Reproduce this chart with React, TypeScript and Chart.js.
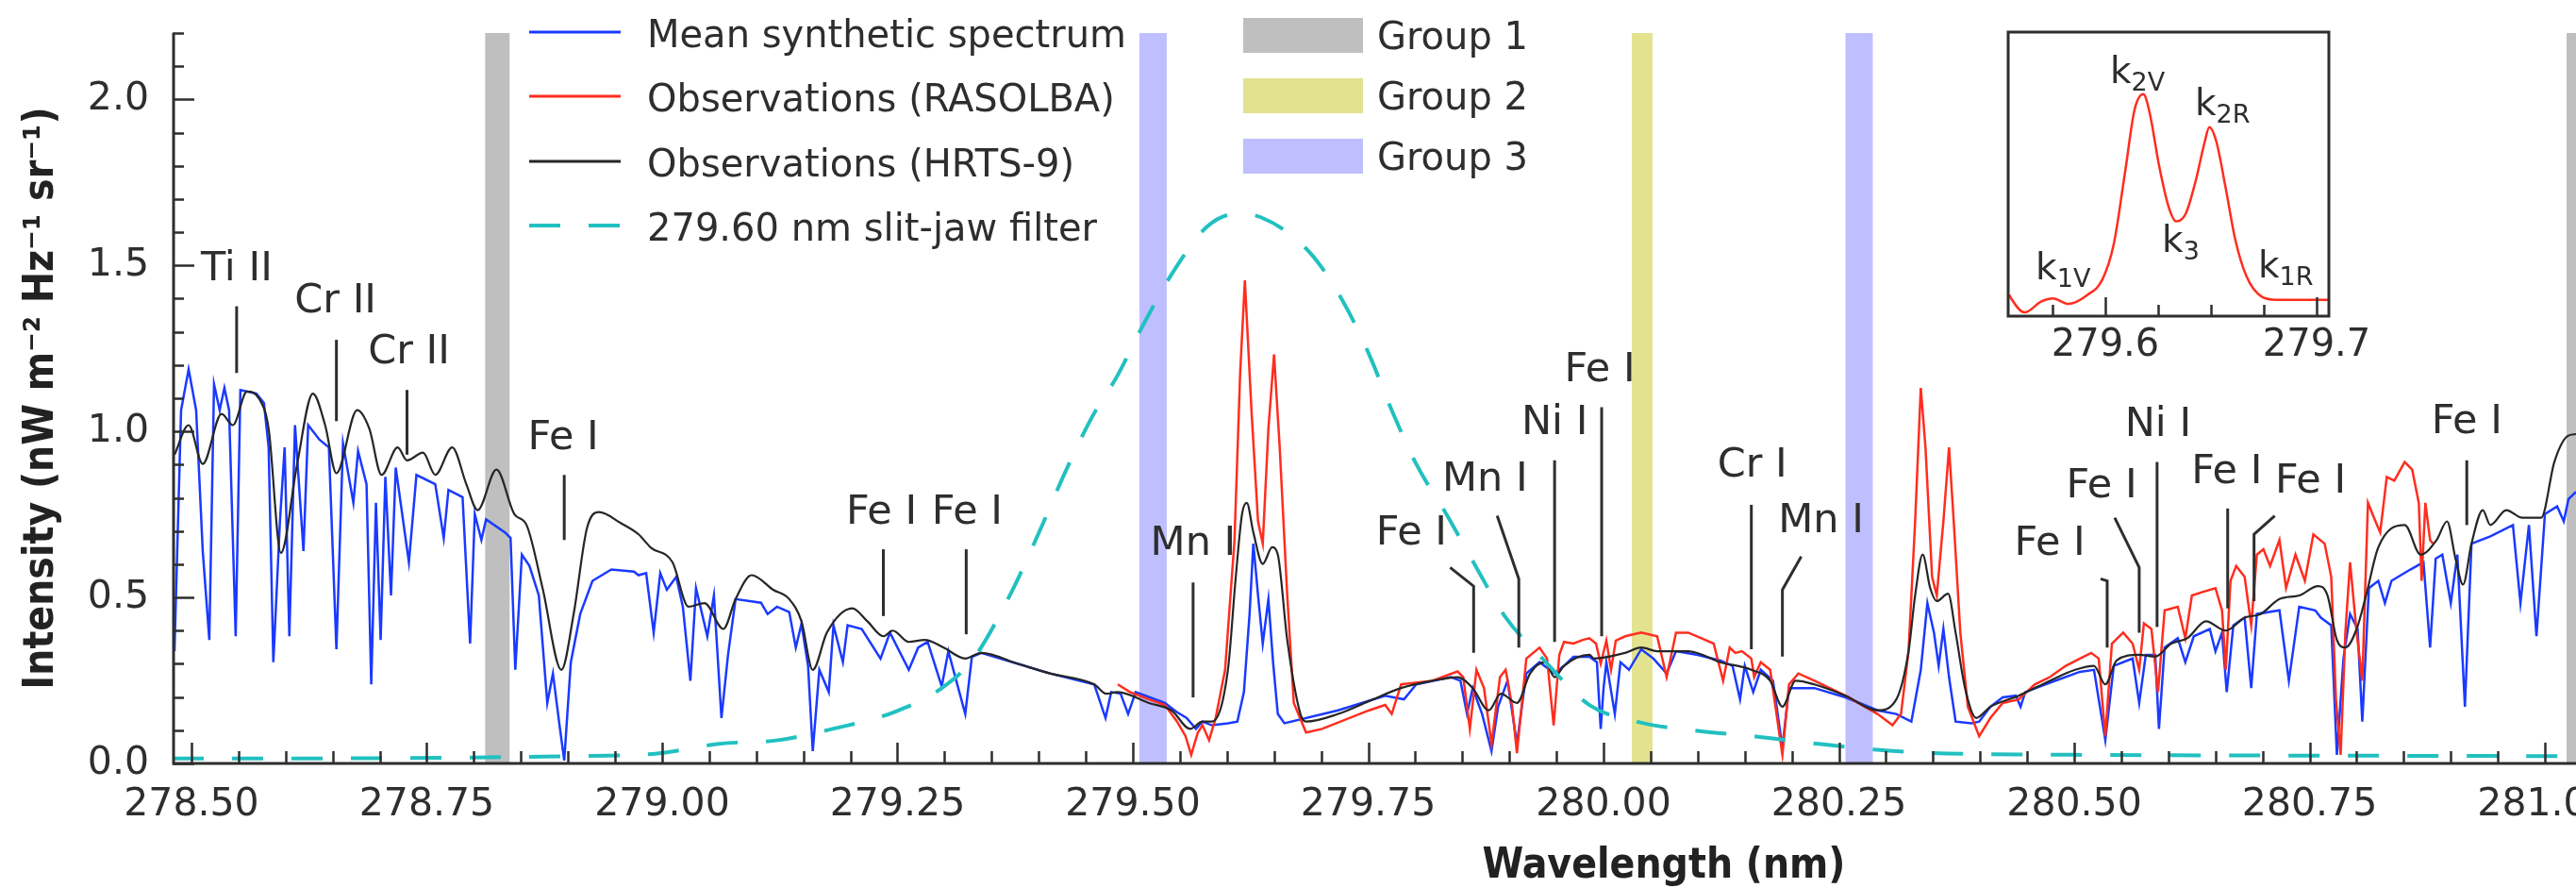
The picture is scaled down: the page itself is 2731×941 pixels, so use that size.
import React, { useEffect, useRef } from "react";
import { Chart, registerables } from "chart.js";

Chart.register(...registerables);

const W = 2731;
const H = 941;
const FONT = '"DejaVu Sans", "Noto Sans", sans-serif';
const FONT_COND = '"DejaVu Sans Condensed", "DejaVu Sans", sans-serif';
const INK = "#2e2e2e";
const BLUE = "#1a3aff";
const RED = "#ff2d1f";
const BLACK = "#262626";
const CYAN = "#22c0c0";
const GREY_BAND = "#bfbfbf";
const YELLOW_BAND = "#e2e28f";
const LAVENDER_BAND = "#bfbfff";

// ---------------- data ----------------
const syntheticSpectrum: [number, number][] = [
  [278.482, 0.338], [278.489, 1.064], [278.497, 1.187], [278.505, 1.064], [278.512, 0.64], [278.519, 0.372],
  [278.524, 1.142], [278.53, 1.064], [278.535, 1.131], [278.54, 1.064], [278.547, 0.383], [278.552, 1.125],
  [278.569, 1.114], [278.577, 1.086], [278.582, 0.952], [278.587, 0.305], [278.594, 0.729], [278.599, 0.952],
  [278.604, 0.383], [278.61, 1.019], [278.619, 0.64], [278.624, 1.019], [278.636, 0.975], [278.646, 0.952],
  [278.654, 0.344], [278.661, 0.964], [278.672, 0.785], [278.677, 0.941], [278.686, 0.841], [278.691, 0.238],
  [278.696, 0.785], [278.701, 0.372], [278.706, 0.863], [278.712, 0.506], [278.717, 0.891], [278.731, 0.606],
  [278.739, 0.869], [278.759, 0.841], [278.768, 0.679], [278.773, 0.824], [278.788, 0.802], [278.796, 0.361],
  [278.801, 0.751], [278.808, 0.673], [278.813, 0.735], [278.833, 0.696], [278.839, 0.679], [278.844, 0.282],
  [278.851, 0.629], [278.859, 0.595], [278.869, 0.506], [278.878, 0.182], [278.884, 0.271], [278.891, 0.115],
  [278.896, 0.009], [278.903, 0.305], [278.913, 0.45], [278.926, 0.55], [278.946, 0.584], [278.97, 0.578],
  [278.975, 0.567], [278.983, 0.573], [278.991, 0.394], [278.998, 0.573], [279.005, 0.523], [279.015, 0.562],
  [279.022, 0.472], [279.03, 0.249], [279.036, 0.528], [279.048, 0.383], [279.055, 0.506], [279.063, 0.137],
  [279.07, 0.327], [279.078, 0.495], [279.105, 0.484], [279.112, 0.45], [279.122, 0.472], [279.135, 0.456],
  [279.142, 0.349], [279.148, 0.421], [279.155, 0.294], [279.16, 0.037], [279.167, 0.282], [279.177, 0.215],
  [279.182, 0.416], [279.192, 0.305], [279.197, 0.416], [279.212, 0.405], [279.232, 0.316], [279.242, 0.394],
  [279.262, 0.282], [279.272, 0.349], [279.282, 0.366], [279.297, 0.232], [279.304, 0.338], [279.322, 0.149],
  [279.329, 0.321], [279.339, 0.333], [279.379, 0.299], [279.412, 0.271], [279.459, 0.238], [279.471, 0.137],
  [279.477, 0.215], [279.487, 0.21], [279.495, 0.149], [279.503, 0.215], [279.534, 0.182], [279.547, 0.154],
  [279.557, 0.137], [279.567, 0.104], [279.574, 0.126], [279.584, 0.115], [279.601, 0.121], [279.611, 0.126],
  [279.618, 0.215], [279.624, 0.45], [279.628, 0.662], [279.633, 0.506], [279.638, 0.361], [279.644, 0.494],
  [279.649, 0.304], [279.654, 0.149], [279.661, 0.121], [279.718, 0.16], [279.768, 0.204], [279.788, 0.193],
  [279.801, 0.238], [279.838, 0.26], [279.848, 0.249], [279.855, 0.149], [279.861, 0.227], [279.871, 0.149],
  [279.881, 0.037], [279.888, 0.171], [279.898, 0.249], [279.908, 0.059], [279.918, 0.271], [279.932, 0.305],
  [279.948, 0.271], [279.958, 0.294], [279.968, 0.321], [279.985, 0.321], [279.993, 0.305], [279.997, 0.104],
  [280.0, 0.226], [280.003, 0.305], [280.012, 0.149], [280.018, 0.305], [280.027, 0.282], [280.04, 0.344],
  [280.053, 0.316], [280.067, 0.271], [280.077, 0.338], [280.1, 0.327], [280.124, 0.31], [280.137, 0.294],
  [280.145, 0.193], [280.15, 0.294], [280.159, 0.215], [280.167, 0.282], [280.18, 0.249], [280.19, 0.048],
  [280.197, 0.227], [280.224, 0.227], [280.257, 0.199], [280.291, 0.16], [280.311, 0.149], [280.327, 0.126],
  [280.337, 0.282], [280.344, 0.483], [280.351, 0.394], [280.356, 0.294], [280.361, 0.405], [280.367, 0.26],
  [280.374, 0.126], [280.391, 0.121], [280.399, 0.126], [280.411, 0.171], [280.424, 0.199], [280.438, 0.204],
  [280.443, 0.171], [280.448, 0.215], [280.474, 0.243], [280.506, 0.276], [280.521, 0.282], [280.533, 0.07],
  [280.542, 0.294], [280.562, 0.316], [280.569, 0.182], [280.576, 0.327], [280.586, 0.327], [280.59, 0.104],
  [280.596, 0.349], [280.61, 0.377], [280.618, 0.305], [280.627, 0.383], [280.644, 0.405], [280.65, 0.338],
  [280.657, 0.394], [280.662, 0.215], [280.669, 0.416], [280.681, 0.439], [280.688, 0.227], [280.694, 0.45],
  [280.718, 0.461], [280.728, 0.249], [280.739, 0.472], [280.756, 0.461], [280.762, 0.439], [280.773, 0.416],
  [280.779, 0.026], [280.786, 0.316], [280.793, 0.45], [280.801, 0.405], [280.806, 0.126], [280.813, 0.528],
  [280.823, 0.55], [280.83, 0.483], [280.837, 0.55], [280.857, 0.584], [280.871, 0.606], [280.878, 0.349],
  [280.884, 0.617], [280.891, 0.629], [280.9, 0.483], [280.907, 0.629], [280.915, 0.171], [280.922, 0.662],
  [280.942, 0.684], [280.966, 0.718], [280.974, 0.483], [280.983, 0.718], [280.991, 0.383], [281.0, 0.751],
  [281.013, 0.774], [281.02, 0.729], [281.025, 0.796], [281.033, 0.818],
];

const rasolbaSpectrum: [number, number][] = [
  [279.484, 0.238], [279.497, 0.215], [279.517, 0.193], [279.534, 0.176], [279.547, 0.126], [279.556, 0.082],
  [279.562, 0.026], [279.569, 0.093], [279.574, 0.115], [279.581, 0.07], [279.588, 0.137], [279.598, 0.282],
  [279.608, 0.673], [279.614, 1.176], [279.619, 1.455], [279.626, 1.064], [279.633, 0.729], [279.638, 0.662],
  [279.644, 1.008], [279.65, 1.232], [279.656, 0.952], [279.664, 0.506], [279.671, 0.182], [279.684, 0.093],
  [279.701, 0.104], [279.751, 0.16], [279.768, 0.176], [279.775, 0.149], [279.785, 0.238], [279.818, 0.249],
  [279.845, 0.277], [279.851, 0.26], [279.858, 0.104], [279.865, 0.282], [279.873, 0.227], [279.881, 0.059],
  [279.89, 0.26], [279.896, 0.282], [279.903, 0.171], [279.908, 0.031], [279.918, 0.316], [279.932, 0.349],
  [279.94, 0.316], [279.947, 0.115], [279.953, 0.327], [279.958, 0.366], [279.968, 0.361], [279.978, 0.372],
  [279.985, 0.377], [279.992, 0.361], [279.997, 0.3], [280.003, 0.37], [280.008, 0.282], [280.013, 0.37],
  [280.023, 0.383], [280.04, 0.394], [280.057, 0.383], [280.067, 0.26], [280.077, 0.394], [280.09, 0.394],
  [280.104, 0.377], [280.117, 0.361], [280.127, 0.249], [280.134, 0.349], [280.14, 0.333], [280.147, 0.338],
  [280.157, 0.316], [280.16, 0.26], [280.167, 0.305], [280.177, 0.282], [280.19, 0.026], [280.197, 0.238],
  [280.207, 0.271], [280.224, 0.249], [280.257, 0.204], [280.291, 0.149], [280.307, 0.115], [280.316, 0.149],
  [280.324, 0.338], [280.331, 0.729], [280.337, 1.131], [280.342, 0.952], [280.349, 0.562], [280.354, 0.506],
  [280.361, 0.729], [280.367, 0.952], [280.372, 0.729], [280.379, 0.394], [280.387, 0.171], [280.399, 0.082],
  [280.411, 0.137], [280.424, 0.182], [280.441, 0.193], [280.458, 0.238], [280.474, 0.26], [280.491, 0.294],
  [280.506, 0.316], [280.518, 0.333], [280.526, 0.316], [280.533, 0.082], [280.54, 0.361], [280.552, 0.394],
  [280.562, 0.361], [280.569, 0.282], [280.574, 0.422], [280.582, 0.405], [280.589, 0.215], [280.596, 0.461],
  [280.61, 0.472], [280.618, 0.377], [280.625, 0.506], [280.637, 0.517], [280.65, 0.528], [280.657, 0.461],
  [280.661, 0.282], [280.666, 0.55], [280.672, 0.595], [280.681, 0.562], [280.688, 0.416], [280.694, 0.629],
  [280.701, 0.645], [280.708, 0.595], [280.718, 0.673], [280.725, 0.528], [280.735, 0.629], [280.745, 0.55],
  [280.754, 0.69], [280.766, 0.662], [280.773, 0.562], [280.778, 0.193], [280.783, 0.026], [280.788, 0.394],
  [280.793, 0.606], [280.8, 0.394], [280.806, 0.249], [280.812, 0.785], [280.82, 0.729], [280.825, 0.696],
  [280.832, 0.863], [280.84, 0.852], [280.851, 0.908], [280.859, 0.885], [280.866, 0.785], [280.869, 0.55],
  [280.873, 0.785], [280.878, 0.673], [280.881, 0.662],
];

const hrtsSpectrum: [number, number][] = [
  [278.482, 0.93], [278.497, 1.019], [278.512, 0.902], [278.532, 1.053], [278.544, 1.019], [278.559, 1.12],
  [278.572, 1.098], [278.582, 1.008], [278.595, 0.634], [278.612, 0.897], [278.629, 1.114], [278.642, 1.019],
  [278.654, 0.874], [278.676, 1.064], [278.689, 1.008], [278.702, 0.869], [278.719, 0.952], [278.729, 0.913],
  [278.746, 0.936], [278.759, 0.869], [278.777, 0.952], [278.792, 0.841], [278.804, 0.763], [278.824, 0.885],
  [278.843, 0.751], [278.856, 0.718], [278.873, 0.528], [278.893, 0.282], [278.906, 0.45], [278.92, 0.707],
  [278.933, 0.757], [278.956, 0.724], [278.975, 0.69], [278.988, 0.65], [279.011, 0.606], [279.028, 0.472],
  [279.045, 0.483], [279.065, 0.405], [279.078, 0.495], [279.095, 0.567], [279.118, 0.523], [279.135, 0.495],
  [279.148, 0.428], [279.16, 0.282], [279.175, 0.394], [279.202, 0.467], [279.218, 0.428], [279.235, 0.383],
  [279.245, 0.4], [279.262, 0.366], [279.279, 0.372], [279.299, 0.349], [279.322, 0.316], [279.339, 0.333],
  [279.379, 0.299], [279.412, 0.271], [279.459, 0.238], [279.472, 0.21], [279.484, 0.215], [279.517, 0.182],
  [279.541, 0.16], [279.561, 0.104], [279.574, 0.126], [279.584, 0.126], [279.601, 0.282], [279.609, 0.55],
  [279.616, 0.751], [279.621, 0.785], [279.628, 0.696], [279.638, 0.601], [279.648, 0.651], [279.654, 0.629],
  [279.664, 0.372], [279.678, 0.149], [279.684, 0.126], [279.718, 0.149], [279.751, 0.188], [279.785, 0.227],
  [279.818, 0.249], [279.845, 0.26], [279.861, 0.227], [279.878, 0.16], [279.891, 0.21], [279.908, 0.182],
  [279.922, 0.271], [279.938, 0.305], [279.948, 0.26], [279.958, 0.294], [279.985, 0.327], [279.99, 0.316],
  [280.023, 0.333], [280.04, 0.349], [280.057, 0.338], [280.09, 0.338], [280.124, 0.305], [280.157, 0.282],
  [280.177, 0.249], [280.19, 0.171], [280.204, 0.249], [280.224, 0.238], [280.257, 0.204], [280.291, 0.16],
  [280.311, 0.193], [280.324, 0.338], [280.331, 0.506], [280.339, 0.629], [280.347, 0.528], [280.354, 0.489],
  [280.366, 0.511], [280.374, 0.394], [280.384, 0.227], [280.396, 0.137], [280.411, 0.171], [280.441, 0.204],
  [280.474, 0.249], [280.501, 0.282], [280.521, 0.294], [280.533, 0.238], [280.545, 0.31], [280.569, 0.327],
  [280.586, 0.322], [280.603, 0.361], [280.62, 0.377], [280.64, 0.428], [280.661, 0.4], [280.681, 0.439],
  [280.698, 0.45], [280.718, 0.495], [280.739, 0.506], [280.759, 0.534], [280.769, 0.506], [280.779, 0.372],
  [280.788, 0.349], [280.8, 0.405], [280.81, 0.506], [280.823, 0.651], [280.851, 0.718], [280.868, 0.629],
  [280.885, 0.673], [280.896, 0.729], [280.905, 0.617], [280.913, 0.539], [280.922, 0.662], [280.934, 0.763],
  [280.942, 0.718], [280.959, 0.763], [280.976, 0.74], [280.996, 0.74], [281.01, 0.908], [281.024, 0.986],
  [281.033, 0.992],
];

const slitJawFilter: [number, number][] = [
  [278.48, 0.015], [278.6, 0.015], [278.7, 0.016], [278.8, 0.018], [278.9, 0.022], [278.995, 0.03],
  [279.06, 0.059], [279.123, 0.07], [279.181, 0.104], [279.246, 0.154], [279.296, 0.225], [279.331, 0.317],
  [279.37, 0.51], [279.401, 0.7], [279.427, 0.87], [279.456, 1.04], [279.483, 1.165], [279.512, 1.326],
  [279.542, 1.477], [279.579, 1.617], [279.61, 1.655], [279.636, 1.645], [279.688, 1.539], [279.723, 1.393],
  [279.751, 1.232], [279.775, 1.064], [279.801, 0.902], [279.833, 0.751], [279.865, 0.59], [279.895, 0.444],
  [279.937, 0.31], [279.985, 0.176], [280.038, 0.124], [280.1, 0.098], [280.162, 0.081], [280.225, 0.06],
  [280.287, 0.042], [280.35, 0.031], [280.41, 0.028], [280.5, 0.026], [280.7, 0.024], [281.033, 0.022],
];

const insetProfile: [number, number][] = [
  [279.5545, 0.05], [279.5554, 0.024], [279.5617, -0.074], [279.5698, 0.003], [279.5752, 0.024],
  [279.5824, -0.015], [279.5914, 0.047], [279.5986, 0.156], [279.6039, 0.397], [279.6093, 0.902],
  [279.6138, 1.34], [279.618, 1.45], [279.621, 1.318], [279.6255, 0.946], [279.63, 0.661], [279.6336, 0.562],
  [279.6381, 0.617], [279.6426, 0.836], [279.6471, 1.121], [279.6492, 1.22], [279.6525, 1.121],
  [279.657, 0.792], [279.6614, 0.441], [279.6668, 0.178], [279.674, 0.036], [279.6812, 0.014], [279.7055, 0.014],
];

const xTickLabels = [278.5, 278.75, 279.0, 279.25, 279.5, 279.75, 280.0, 280.25, 280.5, 280.75, 281.0];
const yTickLabels = [0, 0.5, 1.0, 1.5, 2.0];
const insetTickLabels = [279.6, 279.7];

const group1Bands: [number, number][] = [[278.812, 278.838], [281.023, 281.048]];
const group2Bands: [number, number][] = [[280.03, 280.052]];
const group3Bands: [number, number][] = [[279.507, 279.536], [280.257, 280.286]];

const seriesNames = [
  "Mean synthetic spectrum",
  "Observations (RASOLBA)",
  "Observations (HRTS-9)",
  "279.60 nm slit-jaw filter",
];
const groupNames = ["Group 1", "Group 2", "Group 3"];

// line identifications: label anchor (wavelength, intensity) and leader path
const lineIds: { text: string; at: [number, number]; path: [number, number][] }[] = [
  { text: "Ti II", at: [278.548, 1.5], path: [[278.548, 1.377], [278.548, 1.176]] },
  { text: "Cr II", at: [278.653, 1.404], path: [[278.654, 1.276], [278.654, 1.031]] },
  { text: "Cr II", at: [278.731, 1.25], path: [[278.729, 1.125], [278.729, 0.93]] },
  { text: "Fe I", at: [278.895, 0.99], path: [[278.896, 0.869], [278.896, 0.673]] },
  { text: "Fe I", at: [279.233, 0.766], path: [[279.235, 0.645], [279.235, 0.444]] },
  { text: "Fe I", at: [279.324, 0.766], path: [[279.323, 0.645], [279.323, 0.389]] },
  { text: "Mn I", at: [279.564, 0.672], path: [[279.564, 0.545], [279.564, 0.199]] },
  { text: "Fe I", at: [279.796, 0.703], path: [[279.837, 0.59], [279.862, 0.534], [279.862, 0.333]] },
  { text: "Mn I", at: [279.874, 0.866], path: [[279.887, 0.746], [279.91, 0.556], [279.91, 0.349]] },
  { text: "Ni I", at: [279.948, 1.036], path: [[279.948, 0.913], [279.948, 0.366]] },
  { text: "Fe I", at: [279.996, 1.196], path: [[279.998, 1.073], [279.998, 0.383]] },
  { text: "Cr I", at: [280.158, 0.908], path: [[280.157, 0.779], [280.157, 0.344]] },
  { text: "Mn I", at: [280.231, 0.74], path: [[280.21, 0.623], [280.19, 0.523], [280.19, 0.322]] },
  { text: "Fe I", at: [280.474, 0.672], path: [[280.528, 0.556], [280.535, 0.55], [280.535, 0.349]] },
  { text: "Fe I", at: [280.529, 0.846], path: [[280.543, 0.74], [280.569, 0.59], [280.569, 0.394]] },
  { text: "Ni I", at: [280.589, 1.03], path: [[280.588, 0.908], [280.588, 0.411]] },
  { text: "Fe I", at: [280.662, 0.889], path: [[280.663, 0.768], [280.663, 0.467]] },
  { text: "Fe I", at: [280.751, 0.861], path: [[280.713, 0.746], [280.691, 0.69], [280.691, 0.489]] },
  { text: "Fe I", at: [280.917, 1.04], path: [[280.917, 0.913], [280.917, 0.718]] },
];

// inset feature names: anchor = (left of "k", baseline)
const insetIds: { base: string; sub: string; at: [number, number] }[] = [
  { base: "k", sub: "2V", at: [279.6022, 1.529] },
  { base: "k", sub: "2R", at: [279.6424, 1.305] },
  { base: "k", sub: "3", at: [279.6268, 0.345] },
  { base: "k", sub: "1V", at: [279.567, 0.154] },
  { base: "k", sub: "1R", at: [279.6723, 0.167] },
];

const toXY = (arr: [number, number][]) => arr.map(([x, y]) => ({ x, y }));

// ---------------- plugins ----------------
const bandsPlugin = {
  id: "bands",
  beforeDatasetsDraw(chart: any) {
    const { ctx, chartArea: a, scales } = chart;
    const x = scales.x;
    ctx.save();
    const draw = (bands: [number, number][], color: string) => {
      ctx.fillStyle = color;
      for (const [b0, b1] of bands) {
        const p0 = x.getPixelForValue(b0);
        const p1 = x.getPixelForValue(b1);
        ctx.fillRect(p0, a.top, p1 - p0, a.bottom - a.top);
      }
    };
    draw(group1Bands, GREY_BAND);
    draw(group2Bands, YELLOW_BAND);
    draw(group3Bands, LAVENDER_BAND);
    ctx.restore();
  },
};

const axesPlugin = {
  id: "axesTicks",
  afterDatasetsDraw(chart: any) {
    const { ctx, chartArea: a, scales } = chart;
    const x = scales.x;
    const y = scales.y;
    ctx.save();
    ctx.strokeStyle = INK;
    ctx.lineWidth = 2.5;
    ctx.beginPath();
    const i0 = Math.ceil(x.min / 0.05 - 1e-6);
    for (let i = i0; i * 0.05 <= x.max + 1e-9; i++) {
      const v = i * 0.05;
      const major = Math.abs(v / 0.25 - Math.round(v / 0.25)) < 1e-6;
      const px = Math.round(x.getPixelForValue(v)) + 0.5;
      ctx.moveTo(px, a.bottom);
      ctx.lineTo(px, a.bottom - (major ? 22 : 13));
    }
    for (let i = 0; i * 0.1 <= y.max + 1e-9; i++) {
      const py = Math.round(y.getPixelForValue(i * 0.1)) + 0.5;
      ctx.moveTo(a.left, py);
      ctx.lineTo(a.left + (i % 5 === 0 ? 23 : 12), py);
    }
    ctx.stroke();
    ctx.lineWidth = 3;
    ctx.beginPath();
    ctx.moveTo(a.left + 1, a.top);
    ctx.lineTo(a.left + 1, a.bottom);
    ctx.lineTo(a.right, a.bottom);
    ctx.stroke();
    ctx.restore();
  },
};

const idsPlugin = {
  id: "lineIds",
  afterDatasetsDraw(chart: any) {
    const { ctx, scales } = chart;
    const x = scales.x;
    const y = scales.y;
    const size = 43;
    ctx.save();
    ctx.strokeStyle = INK;
    ctx.fillStyle = INK;
    ctx.lineWidth = 3;
    ctx.font = `${size}px ${FONT}`;
    ctx.textAlign = "center";
    ctx.textBaseline = "alphabetic";
    for (const id of lineIds) {
      ctx.beginPath();
      id.path.forEach(([lx, ly], i) => {
        const px = x.getPixelForValue(lx);
        const py = y.getPixelForValue(ly);
        if (i === 0) ctx.moveTo(px, py);
        else ctx.lineTo(px, py);
      });
      ctx.stroke();
      ctx.fillText(id.text, x.getPixelForValue(id.at[0]), y.getPixelForValue(id.at[1]) + size * 0.365);
    }
    ctx.restore();
  },
};

const legendPlugin = {
  id: "customLegend",
  afterDraw(chart: any) {
    const { ctx } = chart;
    const ds = chart.data.datasets;
    ctx.save();
    ctx.font = `40px ${FONT}`;
    ctx.fillStyle = INK;
    ctx.textAlign = "left";
    ctx.textBaseline = "alphabetic";
    const rows = [34, 102, 171, 239];
    seriesNames.forEach((name, i) => {
      const d = ds[i];
      ctx.save();
      ctx.strokeStyle = d.borderColor;
      ctx.lineWidth = i === 3 ? 4 : 3;
      ctx.setLineDash(i === 3 ? [33, 30] : []);
      ctx.beginPath();
      ctx.moveTo(561, rows[i]);
      ctx.lineTo(658, rows[i]);
      ctx.stroke();
      ctx.restore();
      ctx.fillText(name, 686, rows[i] + 16);
    });
    const grows = [37, 101, 165];
    const gcolors = [GREY_BAND, YELLOW_BAND, LAVENDER_BAND];
    groupNames.forEach((name, i) => {
      ctx.fillStyle = gcolors[i];
      ctx.fillRect(1318, grows[i] - 18, 127, 37);
      ctx.fillStyle = INK;
      ctx.fillText(name, 1460, grows[i] + 15);
    });
    // x axis title (centred on the full, uncropped axis)
    ctx.font = `bold 44px ${FONT_COND}`;
    ctx.textAlign = "center";
    ctx.fillStyle = "#222";
    ctx.fillText("Wavelength (nm)", 1764, 930);
    ctx.restore();
  },
};

const insetFramePlugin = {
  id: "insetFrame",
  beforeDatasetsDraw(chart: any) {
    const { ctx, chartArea: a } = chart;
    ctx.save();
    ctx.fillStyle = "#ffffff";
    ctx.fillRect(a.left, a.top, a.right - a.left, a.bottom - a.top);
    ctx.restore();
  },
  afterDatasetsDraw(chart: any) {
    const { ctx, chartArea: a, scales } = chart;
    const x = scales.x;
    const y = scales.y;
    ctx.save();
    ctx.strokeStyle = INK;
    ctx.lineWidth = 2.5;
    ctx.beginPath();
    const i0 = Math.ceil(x.min / 0.025 - 1e-6);
    for (let i = i0; i * 0.025 <= x.max + 1e-9; i++) {
      const v = i * 0.025;
      const major = Math.abs(v / 0.1 - Math.round(v / 0.1)) < 1e-6;
      const px = Math.round(x.getPixelForValue(v)) + 0.5;
      ctx.moveTo(px, a.bottom);
      ctx.lineTo(px, a.bottom - (major ? 20 : 12));
    }
    ctx.stroke();
    ctx.lineWidth = 3;
    ctx.strokeRect(a.left, a.top, a.right - a.left, a.bottom - a.top);
    ctx.fillStyle = INK;
    ctx.textAlign = "left";
    ctx.textBaseline = "alphabetic";
    for (const id of insetIds) {
      const px = x.getPixelForValue(id.at[0]);
      const py = y.getPixelForValue(id.at[1]);
      ctx.font = `39px ${FONT}`;
      ctx.fillText(id.base, px, py);
      const w = ctx.measureText(id.base).width;
      ctx.font = `27px ${FONT}`;
      ctx.fillText(id.sub, px + w, py + 8);
    }
    ctx.restore();
  },
};

// ---------------- component ----------------
export default function App() {
  const mainRef = useRef<HTMLCanvasElement>(null);
  const insetRef = useRef<HTMLCanvasElement>(null);

  useEffect(() => {
    document.body.style.margin = "0";
    const tickFont = { family: FONT, size: 41 };

    const main = new Chart(mainRef.current as HTMLCanvasElement, {
      type: "line",
      data: {
        datasets: [
          { label: seriesNames[0], data: toXY(syntheticSpectrum), borderColor: BLUE, borderWidth: 2.5, pointRadius: 0, tension: 0, order: 4 },
          { label: seriesNames[1], data: toXY(rasolbaSpectrum), borderColor: RED, borderWidth: 2.5, pointRadius: 0, tension: 0, order: 3 },
          { label: seriesNames[2], data: toXY(hrtsSpectrum), borderColor: BLACK, borderWidth: 2.2, pointRadius: 0, cubicInterpolationMode: "monotone", order: 2 },
          { label: seriesNames[3], data: toXY(slitJawFilter), borderColor: CYAN, borderWidth: 4, borderDash: [33, 30], pointRadius: 0, cubicInterpolationMode: "monotone", order: 1 },
        ] as any,
      },
      options: {
        animation: false,
        responsive: false,
        devicePixelRatio: 1,
        events: [],
        layout: { padding: { top: 35, left: 0, right: 0, bottom: 0 } },
        plugins: { legend: { display: false }, tooltip: { enabled: false }, title: { display: false } },
        scales: {
          x: {
            type: "linear",
            min: 278.48,
            max: 281.033,
            grid: { display: false, drawTicks: false },
            border: { display: false },
            afterBuildTicks: (s: any) => {
              s.ticks = xTickLabels.map((v) => ({ value: v }));
            },
            afterFit: (s: any) => {
              s.height = H - 809;
              s.paddingRight = 0;
            },
            ticks: {
              autoSkip: false,
              maxRotation: 0,
              minRotation: 0,
              padding: 20,
              color: INK,
              font: tickFont,
              callback: (v: any) => Number(v).toFixed(2),
            },
          },
          y: {
            type: "linear",
            min: 0,
            max: 2.2,
            grid: { display: false, drawTicks: false },
            border: { display: false },
            afterBuildTicks: (s: any) => {
              s.ticks = yTickLabels.map((v) => ({ value: v }));
            },
            afterFit: (s: any) => {
              s.width = 183;
              s.paddingTop = 0;
              s.paddingBottom = 0;
            },
            ticks: {
              autoSkip: false,
              padding: 25,
              color: INK,
              font: tickFont,
              callback: (v: any) => Number(v).toFixed(1),
            },
            title: {
              display: true,
              text: "Intensity (nW m\u207B\u00B2 Hz\u207B\u00B9 sr\u207B\u00B9)",
              color: "#222",
              font: { family: FONT_COND, size: 44, weight: "bold" },
              padding: { top: 18, bottom: 0 },
            },
          },
        },
      } as any,
      plugins: [bandsPlugin, axesPlugin, idsPlugin, legendPlugin],
    });

    const inset = new Chart(insetRef.current as HTMLCanvasElement, {
      type: "line",
      data: {
        datasets: [
          { label: "Mg II k (RASOLBA)", data: toXY(insetProfile), borderColor: RED, borderWidth: 2.5, pointRadius: 0, cubicInterpolationMode: "monotone" },
        ] as any,
      },
      options: {
        animation: false,
        responsive: false,
        devicePixelRatio: 1,
        events: [],
        layout: { padding: { top: 34, left: 69, right: 71, bottom: 0 } },
        plugins: { legend: { display: false }, tooltip: { enabled: false } },
        scales: {
          x: {
            type: "linear",
            min: 279.554,
            max: 279.7058,
            grid: { display: false, drawTicks: false },
            border: { display: false },
            afterBuildTicks: (s: any) => {
              s.ticks = insetTickLabels.map((v) => ({ value: v }));
            },
            afterFit: (s: any) => {
              s.height = 420 - 335;
              s.paddingRight = 0;
              s.paddingLeft = 0;
            },
            ticks: {
              autoSkip: false,
              maxRotation: 0,
              padding: 8,
              color: INK,
              font: { family: FONT, size: 40 },
              callback: (v: any) => Number(v).toFixed(1),
            },
          },
          y: { type: "linear", display: false, min: -0.1, max: 1.884 },
        },
      } as any,
      plugins: [insetFramePlugin],
    });

    return () => {
      main.destroy();
      inset.destroy();
    };
  }, []);

  return (
    <div style={{ position: "relative", width: W, height: H, overflow: "hidden", background: "#ffffff" }}>
      <canvas ref={mainRef} width={W} height={H} style={{ position: "absolute", left: 0, top: 0, width: W, height: H }} />
      <canvas ref={insetRef} width={480} height={420} style={{ position: "absolute", left: 2060, top: 0, width: 480, height: 420 }} />
    </div>
  );
}
